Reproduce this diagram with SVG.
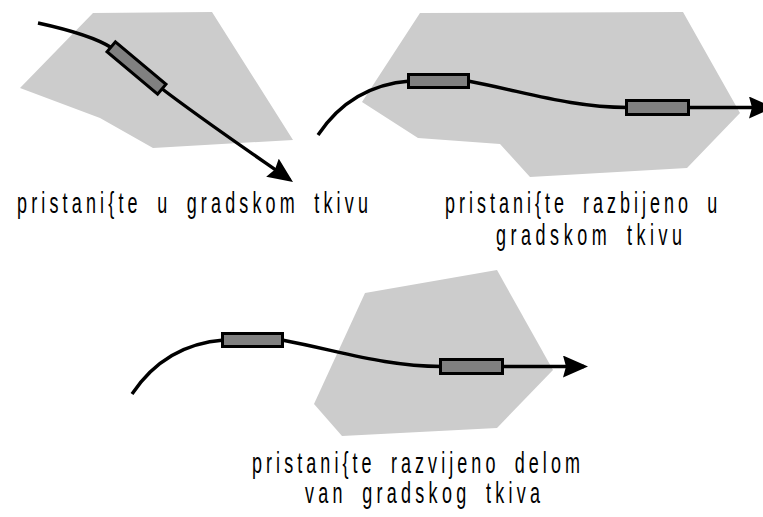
<svg xmlns="http://www.w3.org/2000/svg" width="763" height="517" viewBox="0 0 763 517">
  <style>
    .area { fill: #cccccc; stroke: none; }
    .route { fill: none; stroke: #000000; stroke-width: 3.4; }
    .platform { fill: #808080; stroke: #000000; stroke-width: 3; }
    .label { font-family: "Liberation Sans", Arial, sans-serif; font-size: 29px; fill: #000000; word-spacing: 10px; }
  </style>
  <defs>
    <marker id="arrow" markerUnits="userSpaceOnUse" viewBox="0 0 25 22" markerWidth="25" markerHeight="22" refX="21" refY="11" orient="auto">
      <path d="M0,0 L25,11 L0,22 L3,11 Z" fill="#000000"/>
    </marker>
  </defs>

  <rect width="763" height="517" fill="#ffffff"/>

  <!-- urban fabric areas -->
  <g id="areas">
    <polygon id="area-1" class="area" points="93,13 212,12 293,140 153,148 100,118 20,88"/>
    <polygon id="area-2" class="area" points="420,13 683,12 740,113 687,168 530,177 500,144 418,138 362,102"/>
    <polygon id="area-3" class="area" points="365,293 497,270 553,370 497,428 342,436 314,404"/>
  </g>

  <!-- railway lines -->
  <g id="connectors">
    <path class="route" d="M38,23 C70,30 95,37 112,48"/>
    <path class="route" d="M161,88 C200,118 250,152 289.7,179.7" marker-end="url(#arrow)"/>

    <path class="route" d="M318,135 C340,102 370,84 410,81"/>
    <path class="route" d="M468,81 C530,93 570,107 628,107.5"/>
    <path class="route" d="M688,107.5 L770,107.5" marker-end="url(#arrow)"/>

    <path class="route" d="M132,394 C154,361 184,343 224,340"/>
    <path class="route" d="M282,340 C344,352 384,366 442,366.5"/>
    <path class="route" d="M502,366.5 L584,366.5" marker-end="url(#arrow)"/>
  </g>

  <!-- station platforms -->
  <g id="station-1">
    <rect class="platform" x="-33" y="-6.5" width="66" height="13" transform="translate(136.5,68) rotate(40)"/>
  </g>
  <g id="station-2a">
    <rect class="platform" x="408.5" y="74.5" width="60" height="13"/>
  </g>
  <g id="station-2b">
    <rect class="platform" x="626.5" y="100.5" width="62" height="14"/>
  </g>
  <g id="station-3a">
    <rect class="platform" x="222.5" y="333.5" width="60" height="13"/>
  </g>
  <g id="station-3b">
    <rect class="platform" x="440.5" y="359.5" width="62" height="14"/>
  </g>

  <!-- captions -->
  <g id="caption-1">
    <text class="label" transform="translate(17,213) scale(0.62,1)" textLength="566" lengthAdjust="spacing">pristani{te u gradskom tkivu</text>
  </g>
  <g id="caption-2">
    <text class="label" transform="translate(445,213) scale(0.62,1)" textLength="439" lengthAdjust="spacing">pristani{te razbijeno u</text>
    <text class="label" transform="translate(496,245) scale(0.62,1)" textLength="300" lengthAdjust="spacing">gradskom tkivu</text>
  </g>
  <g id="caption-3">
    <text class="label" transform="translate(252,473) scale(0.62,1)" textLength="529" lengthAdjust="spacing">pristani{te razvijeno delom</text>
    <text class="label" transform="translate(305,503) scale(0.62,1)" textLength="379" lengthAdjust="spacing">van gradskog tkiva</text>
  </g>
</svg>
